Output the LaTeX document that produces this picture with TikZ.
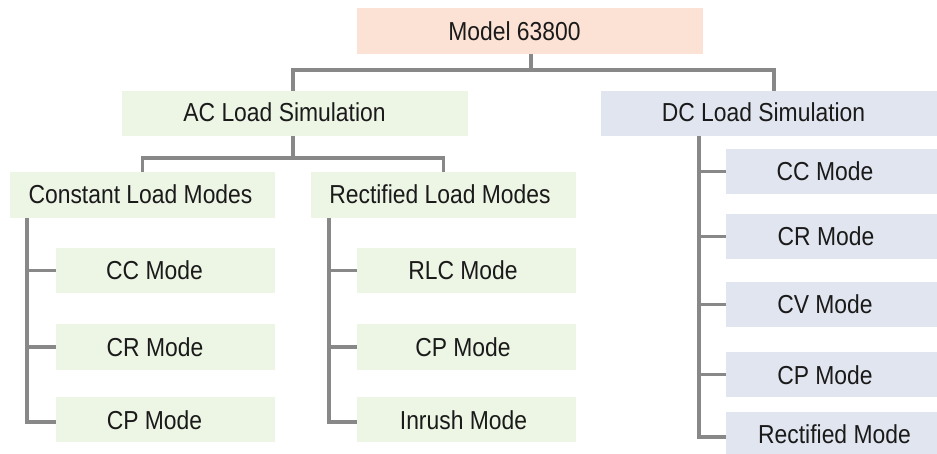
\documentclass[tikz,border=0pt]{standalone}
\usepackage{fontspec}
\setmainfont{Liberation Sans}[FakeStretch=0.88]
\definecolor{orangefill}{HTML}{FCE2D5}
\definecolor{greenfill}{HTML}{EDF5E4}
\definecolor{bluefill}{HTML}{E1E5EF}
\definecolor{linegray}{HTML}{888888}
\definecolor{textcol}{HTML}{1A1A1A}
\begin{document}
\begin{tikzpicture}[x=1pt,y=-1pt,
  box/.style={draw=none,inner sep=0pt,outer sep=0pt},
  topbox/.style={box,fill=orangefill,minimum width=346pt,minimum height=46pt},
  acbig/.style={box,fill=greenfill,minimum width=346pt,minimum height=45pt},
  acmid/.style={box,fill=greenfill,minimum width=265pt,minimum height=46pt},
  acsmall/.style={box,fill=greenfill,minimum width=219pt,minimum height=45pt},
  dcbig/.style={box,fill=bluefill,minimum width=336pt,minimum height=45pt},
  dcsmall/.style={box,fill=bluefill,minimum width=211pt,minimum height=45pt},
  txt/.style={anchor=base,inner sep=0pt,text=textcol,font=\fontsize{26}{31}\selectfont},
  conn/.style={draw=linegray,line width=3.1pt}]
\useasboundingbox (0,0) rectangle (937,454);
% boxes
\node[topbox] (m) at (530,31) {};
\node[acbig] (ac) at (295,113.5) {};
\node[dcbig] (dc) at (769,113.5) {};
\node[acmid] (cl) at (142.5,195) {};
\node[acmid] (rl) at (443.5,195) {};
\node[acsmall] (cc1) at (165.5,270.5) {};
\node[acsmall,minimum height=46pt] (cr1) at (165.5,347) {};
\node[acsmall] (cp1) at (165.5,419.5) {};
\node[acsmall] (rlc) at (466.5,270.5) {};
\node[acsmall,minimum height=46pt] (cp2) at (466.5,347) {};
\node[acsmall] (inr) at (466.5,419.5) {};
\node[dcsmall] (dcc) at (831.5,171.5) {};
\node[dcsmall] (dcr) at (831.5,236.5) {};
\node[dcsmall] (dcv) at (831.5,304.5) {};
\node[dcsmall] (dcp) at (831.5,374.5) {};
\node[dcsmall,minimum height=42pt] (drm) at (831.5,433) {};
% texts
\node[txt] (mt) at (514.5,40.3) {Model 63800};
\node[txt] (act) at (284.5,121.5) {AC Load Simulation};
\node[txt] (dct) at (763.5,121.5) {DC Load Simulation};
\node[txt] (clt) at (140.5,204) {Constant Load Modes};
\node[txt] (rlt) at (440,204) {Rectified Load Modes};
\node[txt] (cc1t) at (154.5,280) {CC Mode};
\node[txt] (cr1t) at (155,356.5) {CR Mode};
\node[txt] (cp1t) at (154.5,429) {CP Mode};
\node[txt] (rlct) at (463,280) {RLC Mode};
\node[txt] (cp2t) at (463,356.5) {CP Mode};
\node[txt] (inrt) at (463.5,429) {Inrush Mode};
\node[txt] (dcct) at (825,181) {CC Mode};
\node[txt] (dcrt) at (826,246) {CR Mode};
\node[txt] (dcvt) at (825,314) {CV Mode};
\node[txt] (dcpt) at (825,384) {CP Mode};
\node[txt] (drmt) at (834.5,443) {Rectified Mode};
% connectors
\draw[conn] ([xshift=1pt]m.south) -- ++(0,16);
\draw[conn] ([xshift=-2pt]ac.north) -- ++(0,-21) -| ([xshift=5pt]dc.north);
\draw[conn] ([xshift=-2pt]ac.south) -- ++(0,22);
\draw[conn] (cl.north) -- ++(0,-14) -| (rl.north);
% left column
\draw[conn] (cl.south) ++(-115.5,0) |- ([yshift=-2.5pt]cp1.west);
\draw[conn] (cc1.west) -- ++(-30,0);
\draw[conn] (cr1.west) -- ++(-30,0);
% middle column
\draw[conn] (rl.south) ++(-114.5,0) |- ([yshift=-2.5pt]inr.west);
\draw[conn] (rlc.west) -- ++(-29,0);
\draw[conn] (cp2.west) -- ++(-29,0);
% right column
\draw[conn] ([xshift=-70pt]dc.south) |- ([yshift=-4pt]drm.west);
\draw[conn] (dcc.west) -- ++(-28,0);
\draw[conn] (dcr.west) -- ++(-28,0);
\draw[conn] (dcv.west) -- ++(-28,0);
\draw[conn] (dcp.west) -- ++(-28,0);
\end{tikzpicture}
\end{document}
